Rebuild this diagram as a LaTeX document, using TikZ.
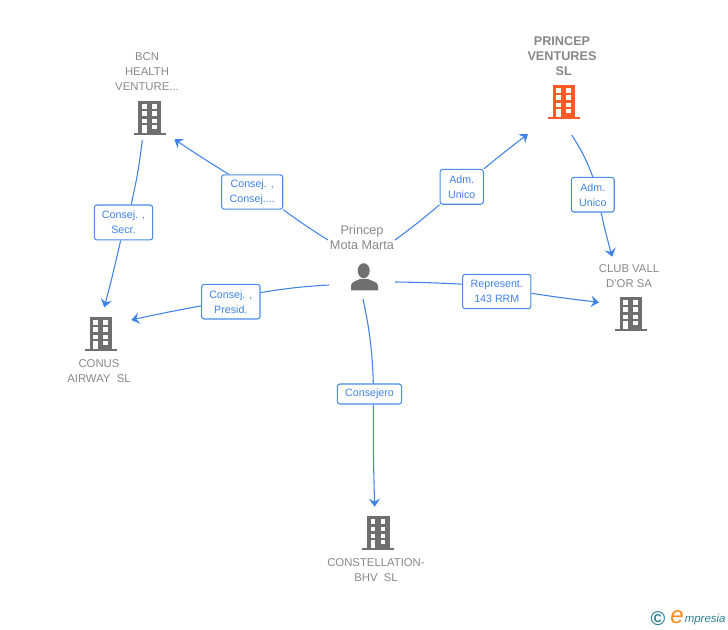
\documentclass[tikz,border=0pt]{standalone}
\usepackage{fontspec}
\setmainfont{Liberation Sans}
\usetikzlibrary{arrows.meta}
\definecolor{linkblue}{HTML}{3F83E6}
\definecolor{boxblue}{HTML}{4A8BE8}
\definecolor{textgrey}{HTML}{888888}
\definecolor{icongrey}{HTML}{6F6F6F}
\definecolor{iconorange}{HTML}{FF5A26}
\definecolor{logoteal}{HTML}{2F7F95}
\definecolor{logoorange}{HTML}{F28A1C}
\tikzset{
	linkbox/.style={draw=boxblue, line width=0.8pt, fill=white, rounded corners=2pt, text=linkblue, inner sep=0pt, align=center, font=\fontsize{8}{11.25}\selectfont},
	link/.style={draw=linkblue, line width=0.8pt, -{Stealth[length=6pt, width=8.5pt, inset=2.2pt]}},
	linkstart/.style={draw=linkblue, line width=0.8pt},
	company/.style={text=textgrey, align=center, inner sep=0pt, font=\fontsize{8.5}{11.25}\selectfont},
	building/.pic={
		\fill[pic actions] (-11.3,0) rectangle (11.3,32);
		\fill[pic actions] (-16,32) rectangle (16,34);
		\foreach \rowtop in {3.3,10.5,17.7}{
			\fill[white] (-7.7,\rowtop) rectangle (-3,\rowtop+4.4);
			\fill[white] (2.3,\rowtop) rectangle (7,\rowtop+4.4);
		}
		\fill[white] (-7.7,24) rectangle (-3,32);
		\fill[white] (2.3,24) rectangle (7,28.4);
	}
}
\begin{document}
\begin{tikzpicture}[x=0.75pt, y=-0.75pt]
		\useasboundingbox (0,0) rectangle (728,630);
		% Company labels and icons:
		\node[company] (bcnText) at (147,72){BCN\\HEALTH\\VENTURE...};
		\pic[fill=icongrey] at (149.5,101){building};
		\node[company, font=\fontsize{9.5}{11.25}\selectfont\bfseries] (princepText) at (562,56){PRINCEP\\VENTURES\\\ SL};
		\pic[fill=iconorange] at (564,85){building};
		\node[company] (clubText) at (629,276){CLUB VALL\\D'OR SA};
		\pic[fill=icongrey] at (631,297){building};
		\node[company] (conusText) at (99,371){CONUS\\AIRWAY\ \ SL};
		\pic[fill=icongrey] at (101,317){building};
		\node[company] (bhvText) at (376,570){CONSTELLATION-\\BHV\ \ SL};
		\pic[fill=icongrey] at (378.3,516){building};
		% Person:
		\node[company, font=\fontsize{9.5}{11.25}\selectfont] (personText) at (362,237.5){Princep\\Mota Marta};
		\fill[icongrey] (363.7,270.7) ellipse (6 and 7.5);
		\fill[icongrey] (351,290.5) -- (351,286) .. controls (351,282) and (355,281.5) .. (360,279) -- (368,279) .. controls (373,281.5) and (378,282) .. (378,286) -- (378,290.5) -- cycle;
		% Boxes on the links:
		\node[linkbox, minimum width=45.8pt, minimum height=25.8pt] (boxBcn) at (252.2,192){Consej. ,\\Consej....};
		\node[linkbox, minimum width=43.8pt, minimum height=26.2pt] (boxSecr) at (123.5,222.5){Consej. ,\\Secr.};
		\node[linkbox, minimum width=43.8pt, minimum height=26pt] (boxPresid) at (230.8,301.7){Consej. ,\\Presid.};
		\node[linkbox, minimum width=32.5pt, minimum height=26.2pt] (boxPrincep) at (461.7,186.8){Adm.\\Unico};
		\node[linkbox, minimum width=32.2pt, minimum height=26pt] (boxClub) at (592.8,194.7){Adm.\\Unico};
		\node[linkbox, minimum width=51.2pt, minimum height=25.8pt] (boxRepr) at (496.8,291.5){Represent.\\143 RRM};
		\node[linkbox, minimum width=48.3pt, minimum height=15pt] (boxBhv) at (369.5,394){Consejero};
		% Free ends of the links:
		\coordinate (fromBcnBox) at (328,240);
		\coordinate (toBcn) at (174.3,139.3);
		\coordinate (fromBcn) at (142.3,140);
		\coordinate (toConusTop) at (104.3,307.3);
		\coordinate (fromPersonLeft) at (329,285);
		\coordinate (toConus) at (131.3,320);
		\coordinate (fromPersonUp) at (395,240);
		\coordinate (toPrincep) at (528,134);
		\coordinate (fromPrincep) at (571.7,135);
		\coordinate (toClubTop) at (612.3,256.7);
		\coordinate (fromPersonRight) at (395,282);
		\coordinate (toClub) at (599,302.3);
		\coordinate (fromPersonDown) at (363,299);
		\coordinate (toBhv) at (374.7,506.7);
		% Links:
		\draw[linkstart] (fromBcnBox) to[bend left=2] (boxBcn.south east);
		\draw[link] (boxBcn.143) to[bend left=1] (toBcn);
		\draw[linkstart] (fromBcn) to[bend left=3] (boxSecr.67);
		\draw[link] (boxSecr.-99) to[bend left=1] (toConusTop);
		\draw[linkstart] (fromPersonLeft) to[bend right=3] (boxPresid.17);
		\draw[link] (boxPresid.188) to[bend right=1] (toConus);
		\draw[linkstart] (fromPersonUp) to[bend right=2] (boxPrincep.south west);
		\draw[link] (boxPrincep.north east) to[bend left=1] (toPrincep);
		\draw[linkstart] (fromPrincep) to[bend left=6] (boxClub.90);
		\draw[link] (boxClub.-65) to[bend right=2] (toClubTop);
		\draw[linkstart] (fromPersonRight) to[bend left=1] (boxRepr.168);
		\draw[link] (boxRepr.-3) to[bend right=1] (toClub);
		\draw[linkstart] (fromPersonDown) to[bend left=5] (boxBhv.70);
		\draw[link] (boxBhv.-70) to[bend right=1] (toBhv);
		% Logo:
		\node[text=logoteal, inner sep=0pt, font=\fontsize{15}{15}\selectfont\bfseries] (logoMark) at (658,618.5){©};
		\node[text=logoorange, inner sep=0pt, font=\fontsize{18}{18}\selectfont\itshape] (logoE) at (677,617.5){e};
		\node[text=logoteal, inner sep=0pt, anchor=west, font=\fontsize{8.6}{10}\selectfont\itshape] (logoText) at (684.5,619.5){mpresia};
	\end{tikzpicture}
\end{document}
